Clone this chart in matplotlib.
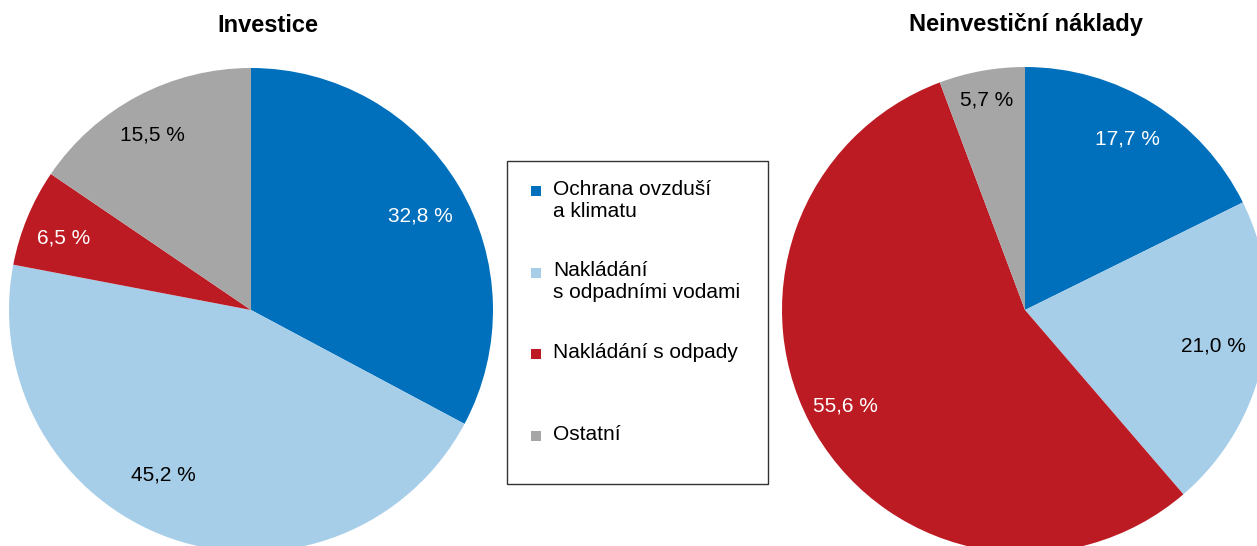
import numpy as np
import matplotlib.pyplot as plt
from matplotlib.patches import Patch, Rectangle
from matplotlib.legend_handler import HandlerPatch

plt.rcParams['font.family'] = ['Liberation Sans', 'DejaVu Sans']

# data
kategorie = ['Ochrana ovzduší\na klimatu', 'Nakládání\ns odpadními vodami',
             'Nakládání s odpady\n', 'Ostatní\n']
investice = [32.8, 45.2, 6.5, 15.5]
neinvesticni = [17.7, 21.0, 55.6, 5.7]
barvy = ['#0070BD', '#A7CEE9', '#BD1B23', '#A6A6A6']
barvy_textu = ['white', 'black', 'white', 'black']

# umisteni popisku (vzdalenost od stredu, posun uhlu ve stupnich) - jako v Excelu
popisky_inv = [(0.80, -2), (0.77, -8.5), (0.83, 1.5), (0.83, 1.5)]
popisky_neinv = [(0.82, 1), (0.79, 0.7), (0.84, -2.4), (0.88, 0)]

W, H = 1257, 546
fig = plt.figure(figsize=(W / 100, H / 100), dpi=100)


def kolac(x0, y0, r, hodnoty, popisky, titulek, tx, ty):
    # x0, y0 = stred v pixelech (y od shora), r = polomer
    ax = fig.add_axes([(x0 - r) / W, (H - y0 - r) / H, 2 * r / W, 2 * r / H])
    wedges, texts, autotexts = ax.pie(
        hodnoty, colors=barvy, startangle=90, counterclock=False,
        autopct=lambda p: ('%.1f %%' % p).replace('.', ','),
        wedgeprops=dict(linewidth=0), textprops=dict(fontsize=15))
    for w, t, c, (d, posun) in zip(wedges, autotexts, barvy_textu, popisky):
        uhel = np.deg2rad((w.theta1 + w.theta2) / 2 + posun)
        t.set_position((d * np.cos(uhel), d * np.sin(uhel)))
        t.set_color(c)
    ax.set_xlim(-1, 1)
    ax.set_ylim(-1, 1)
    ax.set_aspect('auto')
    ax.axis('off')
    fig.text(tx / W, 1 - ty / H, titulek, ha='center', va='center',
             fontsize=17, fontweight='bold')
    return ax


kolac(251, 310, 242, investice, popisky_inv, 'Investice', 268, 26)
kolac(1025, 310, 243, neinvesticni, popisky_neinv, 'Neinvestiční náklady', 1026, 25)


def ctverecek(legend, orig_handle, xdescent, ydescent, width, height, fontsize):
    s = 0.48 * fontsize
    horni = -ydescent + height
    return Rectangle((-xdescent + 0.25 * fontsize, horni - 0.3 * fontsize - s), s, s)


handles = [Patch(facecolor=c, edgecolor='none') for c in barvy]
leg = fig.legend(handles, kategorie, loc='upper left', mode='expand',
                 bbox_to_anchor=(507 / W, 1 - 484 / H, 261 / W, 323 / H),
                 bbox_transform=fig.transFigure, borderaxespad=0,
                 fontsize=15, frameon=True, fancybox=False,
                 handlelength=0.75, handleheight=1.0, handletextpad=0.55,
                 labelspacing=1.95, borderpad=0.9,
                 handler_map={Patch: HandlerPatch(patch_func=ctverecek)})
leg.get_frame().set_edgecolor('black')
leg.get_frame().set_linewidth(1.0)
# ctverecek zarovnat k prvnimu radku textu
for sloupec in leg._legend_handle_box.get_children():
    for radek in sloupec.get_children():
        radek.align = 'top'

fig.savefig('out.png', dpi=100)
